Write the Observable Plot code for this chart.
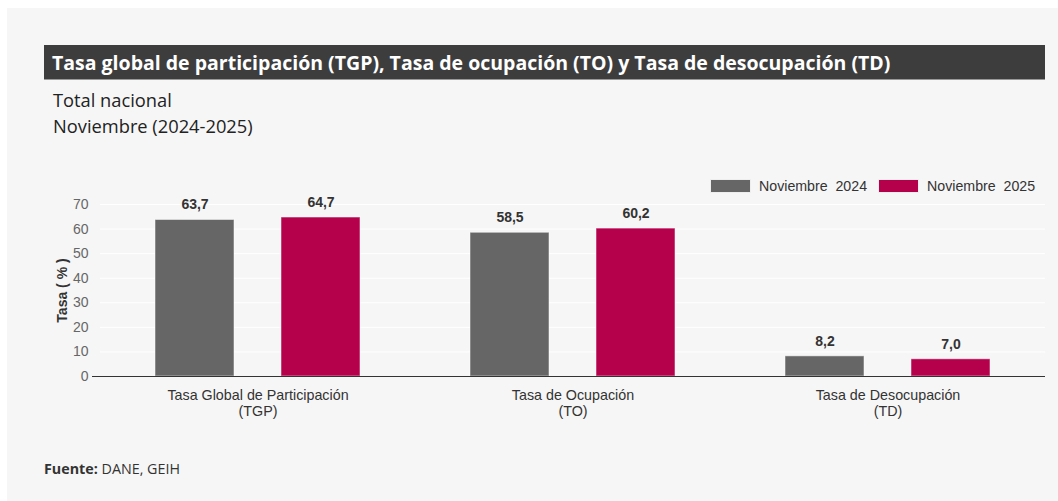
<!DOCTYPE html>
<html>
<head>
<meta charset="utf-8">
<script src="https://cdn.jsdelivr.net/npm/d3@7"></script>
<script src="https://cdn.jsdelivr.net/npm/@observablehq/plot@0.6"></script>
<style>
  body { margin: 0; background: #ffffff; width: 1058px; height: 501px; overflow: hidden; position: relative; font-family: "Open Sans", sans-serif; }
  #panel { position: absolute; left: 7px; top: 8px; width: 1051px; height: 493px; background: #f6f6f6; }
  #title { position: absolute; left: 44px; top: 45px; width: 1001px; height: 35px; background: #3d3d3d; color: #fff; font-weight: 700; font-size: 19.5px; line-height: 35px; padding-left: 8px; box-sizing: border-box; border-bottom: 1px solid #999; white-space: nowrap; }
  #sub { position: absolute; left: 53px; top: 87px; font-size: 18.3px; line-height: 26px; color: #222; }
  #legend { position: absolute; top: 179px; left: 710px; font-family: "Liberation Sans", Arial, sans-serif; font-size: 14.2px; color: #333; display: flex; align-items: center; }
  .sw { display: inline-block; width: 41px; height: 14px; margin-right: 8px; box-sizing: border-box; border: 1px solid #eee; }
  .item { display: flex; align-items: center; margin-right: 11px; white-space: pre; height: 14px; }
  #chart { position: absolute; left: 0; top: 165px; }
  #foot { position: absolute; left: 44px; top: 459px; font-size: 14.3px; color: #333; }
  svg g[aria-label="y-axis label"] text { font-weight: bold; fill: #333; font-size: 14px; }
</style>
</head>
<body>
<div id="panel"></div>
<div id="title">Tasa global de participación (TGP), Tasa de ocupación (TO) y Tasa de desocupación (TD)</div>
<div id="sub">Total nacional<br>Noviembre (2024-2025)</div>
<div id="legend"></div>
<div id="chart"></div>
<div id="foot"><b>Fuente:</b> DANE, GEIH</div>
<script>
const categories = ["Tasa Global de Participación\n(TGP)", "Tasa de Ocupación\n(TO)", "Tasa de Desocupación\n(TD)"];
const series = ["Noviembre  2024", "Noviembre  2025"];
const values2024 = [63.7, 58.5, 8.2];
const values2025 = [64.7, 60.2, 7.0];
const colors = ["#666666", "#b5004b"];
const yTicks = [0, 10, 20, 30, 40, 50, 60, 70];

const data = [];
categories.forEach((c, i) => {
  data.push({cat: c, serie: series[0], value: values2024[i]});
  data.push({cat: c, serie: series[1], value: values2025[i]});
});

const legend = document.getElementById("legend");
series.forEach((s, i) => {
  const it = document.createElement("span");
  it.className = "item";
  it.innerHTML = `<span class="sw" style="background:${colors[i]}"></span>${s}`;
  legend.appendChild(it);
});

const fmt = v => v.toFixed(1).replace(".", ",");

const chart = Plot.plot({
  width: 1058,
  height: 265,
  marginLeft: 100,
  marginRight: 13,
  marginTop: 39,
  marginBottom: 54,
  style: { background: "transparent", fontFamily: "'Liberation Sans', Arial, sans-serif", color: "#333" },
  fx: { domain: categories, padding: 0, label: null },
  x: { domain: series, paddingInner: 0.373, paddingOuter: 0.4365, axis: null },
  y: { domain: [0, 70], ticks: yTicks },
  color: { domain: series, range: colors },
  marks: [
    Plot.gridY(yTicks, { stroke: "#ffffff", strokeOpacity: 1, strokeWidth: 1 }),
    Plot.barY(data, { fx: "cat", x: "serie", y: "value", fill: "serie", stroke: "#ffffff", strokeOpacity: 0.5 }),
    Plot.text(data, { fx: "cat", x: "serie", y: "value", text: d => fmt(d.value), dy: -15, fontSize: 14, fontWeight: "bold", fill: "#333" }),
    Plot.ruleY([0], { stroke: "#333", strokeWidth: 1.2 }),
    Plot.axisY(yTicks, { tickSize: 0, tickPadding: 12, fontSize: 14, fill: "#666", label: "Tasa ( % )", labelAnchor: "center", labelOffset: 43, labelArrow: "none" }),
    Plot.axisY([0], { tickSize: 8, tickPadding: 0, text: null, label: null, stroke: "#333" }),
    Plot.axisFx({ anchor: "bottom", tickSize: 0, tickPadding: 12, fontSize: 14.3, fill: "#333", label: null, lineHeight: 1.12 })
  ]
});
document.getElementById("chart").appendChild(chart);
</script>
</body>
</html>
